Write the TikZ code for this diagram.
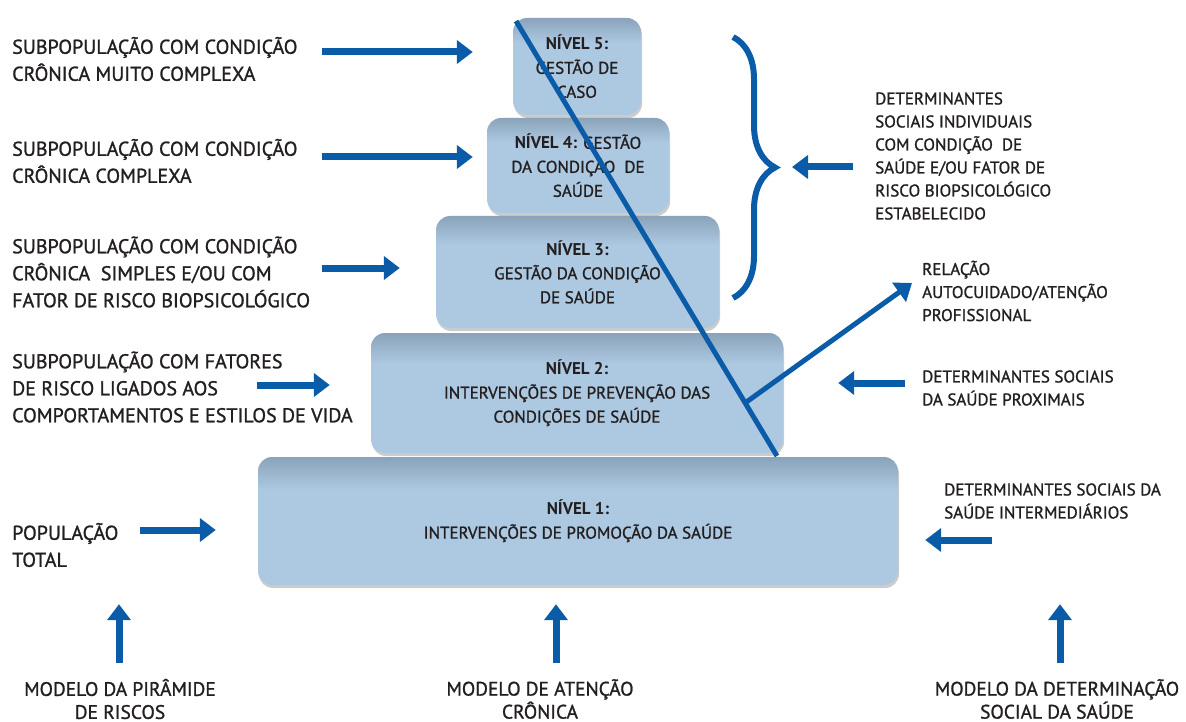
\documentclass[tikz,border=0pt]{standalone}
\usepackage{fontspec}
\setmainfont{PT Sans}[UprightFeatures={FakeBold=1.2}]
\usepackage{xcolor}
\usetikzlibrary{positioning,arrows.meta,calc,shadows,decorations.pathreplacing}

\definecolor{arrowblue}{HTML}{0B5CA8}
\definecolor{boxfill}{HTML}{ADC9E1}
\definecolor{boxtop}{HTML}{8AA3BB}
\definecolor{txtgray}{HTML}{231F20}

\pgfdeclareverticalshading{levelshade}{100bp}{color(0bp)=(boxfill); color(62bp)=(boxfill); color(75bp)=(boxtop); color(100bp)=(boxtop)}

\tikzset{
  level/.style={rounded corners=14pt, shading=levelshade, text=txtgray, align=center, inner sep=0pt,
    font=\fontsize{17}{24}\selectfont,
    drop shadow={shadow xshift=1pt, shadow yshift=-3pt, opacity=0.2, fill=black}},
  lefttxt/.style={anchor=west, align=left, inner sep=0pt, text=txtgray, font=\fontsize{20}{27}\selectfont},
  righttxt/.style={anchor=west, align=left, inner sep=0pt, text=txtgray, font=\fontsize{17}{23}\selectfont},
  basetxt/.style={align=center, inner sep=0pt, text=txtgray, font=\fontsize{19.5}{23}\selectfont},
  bigarrow/.style={arrowblue, line width=7pt, -{Triangle[length=16pt,width=23pt]}},
  diag/.style={arrowblue, line width=5pt}
}

\begin{document}
\begin{tikzpicture}[x=1pt,y=-1pt]
  \useasboundingbox (0,0) rectangle (1186,722);

  % Pyramid levels
  \node[level, minimum width=640pt, minimum height=128pt] (box1) at (578,521)
    {\textbf{NÍVEL 1:}\\INTERVENÇÕES DE PROMOÇÃO DA SAÚDE};
  \node[level, minimum width=412pt, minimum height=120pt] (box2) at (577,393)
    {\textbf{NÍVEL 2:}\\INTERVENÇÕES DE PREVENÇÃO DAS\\CONDIÇÕES DE SAÚDE};
  \node[level, minimum width=283pt, minimum height=112pt] (box3) at (577.5,272)
    {\textbf{NÍVEL 3:}\\GESTÃO DA CONDIÇÃO\\DE SAÚDE};
  \node[level, minimum width=182pt, minimum height=95pt] (box4) at (578,165.5)
    {\textbf{NÍVEL 4:} GESTÃO\\DA CONDIÇÃO~~DE\\SAÚDE};
  \node[level, minimum width=128pt, minimum height=97pt] (box5) at (577,66.5)
    {\textbf{NÍVEL 5:}\\GESTÃO DE\\CASO};

  % Diagonal and relation arrow
  \coordinate (diagtop) at (516,21);
  \coordinate (diagend) at (777,456);
  \coordinate (relend) at (912,283);
  \draw[diag] (diagtop) -- (diagend);
  \draw[bigarrow, line width=5pt] ($(diagtop)!0.878!(diagend)$) -- (relend);

  % Risk pyramid subpopulations
  \node[lefttxt] (sub5) at (12,59) {SUBPOPULAÇÃO COM CONDIÇÃO\\CRÔNICA MUITO COMPLEXA};
  \node[lefttxt] (sub4) at (12,161) {SUBPOPULAÇÃO COM CONDIÇÃO\\CRÔNICA COMPLEXA};
  \node[lefttxt] (sub3) at (12,272) {SUBPOPULAÇÃO COM CONDIÇÃO\\CRÔNICA~~SIMPLES E/OU COM\\FATOR DE RISCO BIOPSICOLÓGICO};
  \node[lefttxt] (sub2) at (12,387) {SUBPOPULAÇÃO COM FATORES\\DE RISCO LIGADOS AOS\\COMPORTAMENTOS E ESTILOS DE VIDA};
  \node[lefttxt] (sub1) at (12,545) {POPULAÇÃO\\TOTAL};

  \coordinate (t5) at (322,52);
  \coordinate (t4) at (322,157);
  \coordinate (t3) at (322,268);
  \coordinate (t2) at (257,385);
  \coordinate (t1) at (140,530);
  \draw[bigarrow, shorten >=40pt] (t5) -- (t5 -| box5.west);
  \draw[bigarrow, shorten >=14pt] (t4) -- (t4 -| box4.west);
  \draw[bigarrow, shorten >=36pt] (t3) -- (t3 -| box3.west);
  \draw[bigarrow, shorten >=41pt] (t2) -- (t2 -| box2.west);
  \draw[bigarrow, shorten >=42pt] (t1) -- (t1 -| box1.west);

  % Social determinants
  \coordinate (bracetop) at (733,37);
  \coordinate (bracebot) at (733,298);
  \draw[arrowblue, line width=6pt, decorate, decoration={brace, amplitude=42pt}] (bracetop) -- (bracebot);

  \node[righttxt] (detind) at (875,156) {DETERMINANTES\\SOCIAIS INDIVIDUAIS\\COM CONDIÇÃO~~DE\\SAÚDE E/OU FATOR DE\\RISCO BIOPSICOLÓGICO\\ESTABELECIDO};
  \node[righttxt] (rel) at (922,291) {RELAÇÃO\\AUTOCUIDADO/ATENÇÃO\\PROFISSIONAL};
  \node[righttxt] (prox) at (922,388) {DETERMINANTES SOCIAIS\\DA SAÚDE PROXIMAIS};
  \node[righttxt] (inter) at (944,501) {DETERMINANTES SOCIAIS DA\\SAÚDE INTERMEDIÁRIOS};

  \coordinate (d3) at (853,167);
  \coordinate (d2) at (905,383);
  \coordinate (d1) at (992,540);
  \draw[bigarrow] (d3) -- (792,167);
  \draw[bigarrow, shorten >=55pt] (d2) -- (d2 -| box2.east);
  \draw[bigarrow, shorten >=27pt] (d1) -- (d1 -| box1.east);

  % Models
  \node[basetxt] (piram) at (120,699) {MODELO DA PIRÂMIDE\\DE RISCOS};
  \node[basetxt] (aten) at (540,699) {MODELO DE ATENÇÃO\\CRÔNICA};
  \node[basetxt] (determ) at (1057,699) {MODELO DA DETERMINAÇÃO\\SOCIAL DA SAÚDE};

  \coordinate (u1) at (119,663);
  \coordinate (u2) at (556,663);
  \coordinate (u3) at (1060,663);
  \foreach \u in {u1,u2,u3}
    \draw[bigarrow, shorten >=19pt] (\u) -- (\u |- box1.south);
\end{tikzpicture}
\end{document}
